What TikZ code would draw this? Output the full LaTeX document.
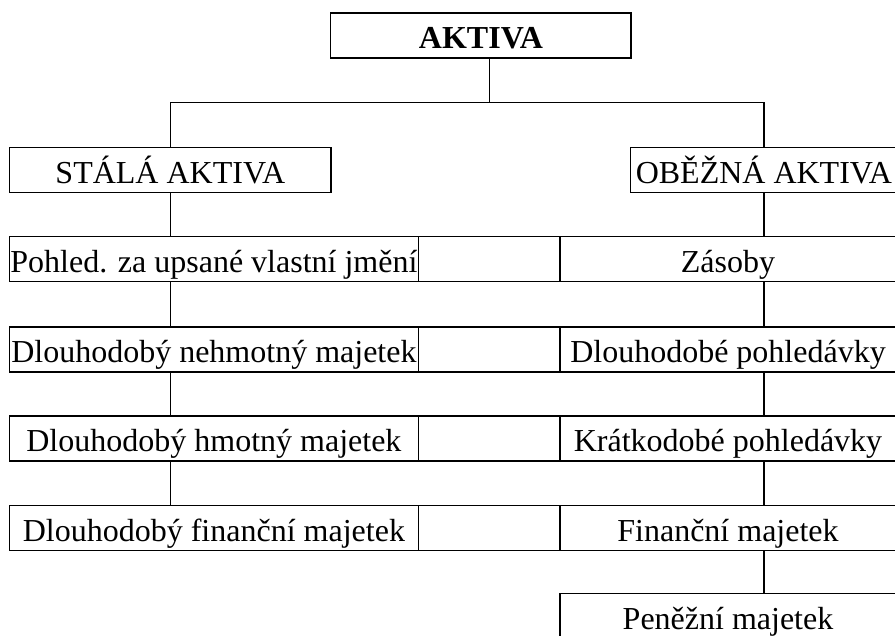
\documentclass[tikz,border=0pt]{standalone}
\usepackage{fontspec}
\setmainfont{Liberation Serif}
\begin{document}
\begin{tikzpicture}[x=1pt,y=-1pt,
  box/.style={draw,line width=1.4pt,inner xsep=0pt,inner ysep=0pt,
    minimum height=45pt,text height=36pt,text depth=9pt,
    font=\fontsize{32}{38}\selectfont},
  lbox/.style={box,minimum width=408.8pt},
  mbox/.style={box,minimum width=141.7pt},
  rbox/.style={box,minimum width=336pt},
  conn/.style={line width=1.4pt}]
\useasboundingbox (0,0) rectangle (895,636);
\clip (0,0) rectangle (895,636);
% top
\node[box,minimum width=300.3pt,font=\fontsize{32}{38}\selectfont\bfseries] (akt) at (480.9,35.35) {AKTIVA};
\node[box,minimum width=321.5pt] (sa) at (170.3,170.2) {STÁLÁ AKTIVA};
\node[box,minimum width=266.3pt] (oa) at (763.9,170.2) {OBĚŽNÁ AKTIVA};
% left column
\node[lbox] (l1) at (213.9,259.2) {Pohled. za upsané vlastní jmění};
\node[lbox] (l2) at (213.9,349.4) {Dlouhodobý nehmotný majetek};
\node[lbox] (l3) at (213.9,438.4) {Dlouhodobý hmotný majetek};
\node[lbox] (l4) at (213.9,527.7) {Dlouhodobý finanční majetek};
% empty middle cells
\node[mbox] (m1) at (489.15,259.2) {};
\node[mbox] (m2) at (489.15,349.4) {};
\node[mbox] (m3) at (489.15,438.4) {};
\node[mbox] (m4) at (489.15,527.7) {};
% right column
\node[rbox] (r1) at (728,259.2) {Zásoby};
\node[rbox] (r2) at (728,349.4) {Dlouhodobé pohledávky};
\node[rbox] (r3) at (728,438.4) {Krátkodobé pohledávky};
\node[rbox] (r4) at (728,527.7) {Finanční majetek};
\node[rbox] (r5) at (728,615.8) {Peněžní majetek};
% connectors
\coordinate (aktout) at (489.7,58);
\coordinate (bus) at (489.7,102.7);
\draw[conn] (aktout) -- (bus);
\draw[conn] (sa.north) |- (bus) -| (oa.north);
\draw[conn] (sa.south) -- (sa.south |- l1.north);
\draw[conn] (sa.south |- l1.south) -- (sa.south |- l2.north);
\draw[conn] (sa.south |- l2.south) -- (sa.south |- l3.north);
\draw[conn] (sa.south |- l3.south) -- (sa.south |- l4.north);
\draw[conn] (oa.south) -- (oa.south |- r1.north);
\draw[conn] (oa.south |- r1.south) -- (oa.south |- r2.north);
\draw[conn] (oa.south |- r2.south) -- (oa.south |- r3.north);
\draw[conn] (oa.south |- r3.south) -- (oa.south |- r4.north);
\draw[conn] (oa.south |- r4.south) -- (oa.south |- r5.north);
\end{tikzpicture}
\end{document}
